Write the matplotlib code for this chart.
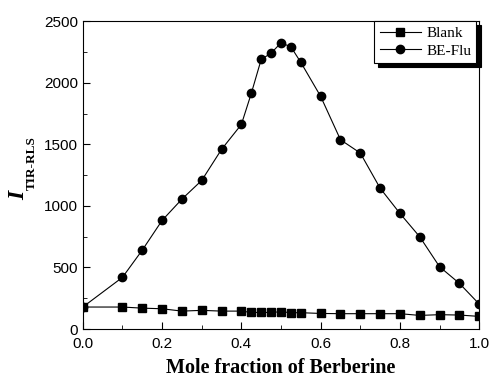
import matplotlib
matplotlib.use("Agg")
import matplotlib.pyplot as plt
from matplotlib.ticker import MultipleLocator

x_vals = [0.0, 0.1, 0.15, 0.2, 0.25, 0.3, 0.35, 0.4, 0.425, 0.45, 0.475, 0.5,
          0.525, 0.55, 0.6, 0.65, 0.7, 0.75, 0.8, 0.85, 0.9, 0.95, 1.0]
blank = [179, 179, 170, 165, 146, 152, 146, 146, 135, 135, 135, 141,
         133, 133, 127, 125, 125, 125, 125, 111, 117, 114, 103]
be_flu = [179, 420, 641, 882, 1055, 1207, 1459, 1661, 1913, 2189, 2240, 2324,
          2291, 2165, 1889, 1537, 1429, 1144, 939, 749, 506, 371, 203]
x_ticks = [0.0, 0.2, 0.4, 0.6, 0.8, 1.0]
y_ticks = [0, 500, 1000, 1500, 2000, 2500]

fig = plt.figure(figsize=(4.9, 3.84), dpi=100)
ax = fig.add_axes([0.169, 0.143, 0.809, 0.802])

ax.plot(x_vals, blank, color='black', lw=0.8, marker='s', ms=5.2, label='Blank')
ax.plot(x_vals, be_flu, color='black', lw=0.8, marker='o', ms=6, label='BE-Flu')

ax.set_xlim(0, 1.0)
ax.set_ylim(0, 2500)
ax.set_xticks(x_ticks)
ax.set_xticklabels([f"{v:.1f}" for v in x_ticks])
ax.set_yticks(y_ticks)
ax.xaxis.set_minor_locator(MultipleLocator(0.1))
ax.yaxis.set_minor_locator(MultipleLocator(250))
ax.tick_params(which='both', direction='in', labelsize=11)
ax.tick_params(which='major', length=5)
ax.tick_params(which='minor', length=3)
ax.tick_params(axis='x', which='major', pad=6)
for lbl in ax.get_xticklabels() + ax.get_yticklabels():
    lbl.set_fontfamily('Liberation Sans')

ax.set_xlabel('Mole fraction of Berberine', fontfamily='Liberation Serif',
              fontweight='bold', fontsize=14.5, labelpad=5)

fig.text(0.038, 0.49, 'I', rotation=90, ha='center', va='center',
         fontfamily='Liberation Serif', fontweight='bold', fontstyle='italic',
         fontsize=17)
fig.text(0.064, 0.576, 'TIR-RLS', rotation=90, ha='center', va='center',
         fontfamily='Liberation Serif', fontweight='bold', fontsize=9.5)

leg = ax.legend(loc='upper right', bbox_to_anchor=(0.993, 1.0),
                prop={'family': 'Liberation Serif', 'size': 11},
                fancybox=False, edgecolor='black', framealpha=1,
                shadow={'color': 'black', 'alpha': 1, 'ox': 3, 'oy': -3},
                handlelength=2.7, borderpad=0.35, labelspacing=0.25,
                handletextpad=0.35, borderaxespad=0.0)
leg.get_frame().set_linewidth(0.8)

fig.savefig('out.png', dpi=100)
